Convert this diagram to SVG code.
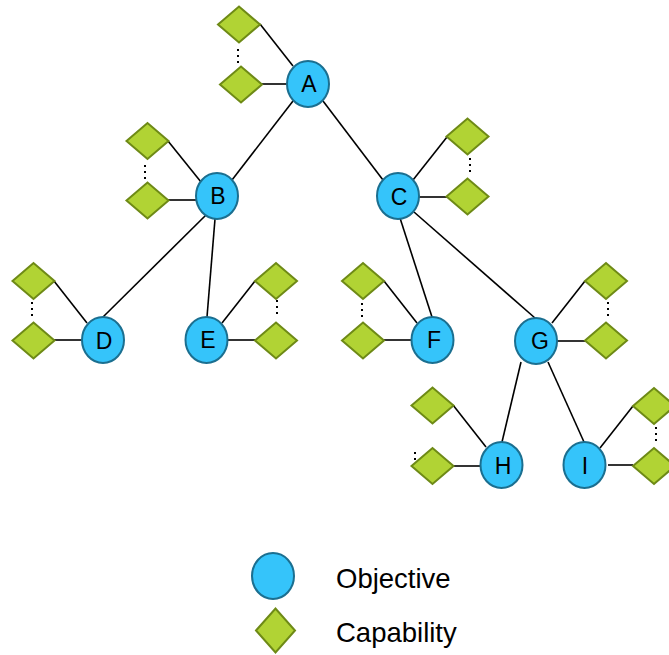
<svg xmlns="http://www.w3.org/2000/svg" width="669" height="655" viewBox="0 0 669 655">
<defs>
<style>
.obj{fill:#35C4FA;stroke:#1B6F90;stroke-width:2}
.cap{fill:#B1D334;stroke:#6E8A16;stroke-width:2;stroke-linejoin:miter}
.lbl{font-family:"Liberation Sans",Arial,sans-serif;font-size:23px;fill:#000;text-anchor:middle}
.leg{font-family:"Liberation Sans",Arial,sans-serif;font-size:27.5px;fill:#000}
.ln{stroke:#000;stroke-width:1.6;fill:none}
.dot{stroke:#000;stroke-width:2;stroke-dasharray:2 4;fill:none}
</style>
<path id="dm" d="M -21 0 L 0 -18 L 21 0 L 0 18 Z"/>
</defs>
<rect width="669" height="655" fill="#fff"/>
<g id="connectors">
<line class="ln" x1="293" y1="101" x2="232" y2="180"/>
<line class="ln" x1="323" y1="101" x2="383" y2="180"/>
<line class="ln" x1="206" y1="215" x2="103" y2="317"/>
<line class="ln" x1="215" y1="219" x2="207" y2="317"/>
<line class="ln" x1="400" y1="218" x2="432" y2="317"/>
<line class="ln" x1="414" y1="212" x2="535" y2="318"/>
<line class="ln" x1="521" y1="362" x2="502" y2="442"/>
<line class="ln" x1="548" y1="362" x2="584" y2="442"/>
<line class="ln" x1="260" y1="24" x2="293" y2="66"/>
<line class="ln" x1="262" y1="84" x2="287" y2="84"/>
<line class="ln" x1="168" y1="141" x2="201" y2="182"/>
<line class="ln" x1="168" y1="200" x2="196" y2="200"/>
<line class="ln" x1="447" y1="137" x2="413" y2="180"/>
<line class="ln" x1="419" y1="197" x2="447" y2="197"/>
<line class="ln" x1="54" y1="281" x2="87" y2="323"/>
<line class="ln" x1="54" y1="340" x2="82" y2="340"/>
<line class="ln" x1="222" y1="323" x2="255" y2="281"/>
<line class="ln" x1="228" y1="340" x2="255" y2="340"/>
<line class="ln" x1="384" y1="281" x2="417" y2="323"/>
<line class="ln" x1="384" y1="340" x2="412" y2="340"/>
<line class="ln" x1="552" y1="323" x2="585" y2="281"/>
<line class="ln" x1="557" y1="341" x2="585" y2="341"/>
<line class="ln" x1="453" y1="405" x2="486" y2="447"/>
<line class="ln" x1="453" y1="466" x2="480" y2="466"/>
<line class="ln" x1="600" y1="448" x2="633" y2="406"/>
<line class="ln" x1="608" y1="465" x2="633" y2="465"/>
<line class="dot" x1="238" y1="49" x2="238" y2="65"/>
<line class="dot" x1="145" y1="165" x2="145" y2="183"/>
<line class="dot" x1="470" y1="158" x2="470" y2="175"/>
<line class="dot" x1="32" y1="302" x2="32" y2="320"/>
<line class="dot" x1="277" y1="300" x2="277" y2="318"/>
<line class="dot" x1="362" y1="303" x2="362" y2="320"/>
<line class="dot" x1="608" y1="302" x2="608" y2="317"/>
<line class="dot" x1="415" y1="452" x2="415" y2="462"/>
<line class="dot" x1="656" y1="427" x2="656" y2="444"/>
</g>
<g id="capabilities">
<use href="#dm" class="cap" x="239" y="24.5"/>
<use href="#dm" class="cap" x="241" y="84.5"/>
<use href="#dm" class="cap" x="147.5" y="141"/>
<use href="#dm" class="cap" x="147.5" y="200.5"/>
<use href="#dm" class="cap" x="467.5" y="136.5"/>
<use href="#dm" class="cap" x="467.5" y="196.5"/>
<use href="#dm" class="cap" x="33.5" y="281"/>
<use href="#dm" class="cap" x="33.5" y="340.5"/>
<use href="#dm" class="cap" x="276" y="281"/>
<use href="#dm" class="cap" x="276" y="340.5"/>
<use href="#dm" class="cap" x="363" y="281"/>
<use href="#dm" class="cap" x="363" y="340.5"/>
<use href="#dm" class="cap" x="606" y="281"/>
<use href="#dm" class="cap" x="606" y="340.5"/>
<use href="#dm" class="cap" x="432.5" y="405.5"/>
<use href="#dm" class="cap" x="432.5" y="466"/>
<use href="#dm" class="cap" x="654" y="406"/>
<use href="#dm" class="cap" x="654" y="466"/>
</g>
<g id="node-A"><ellipse class="obj" cx="308" cy="84" rx="21" ry="23"/><text class="lbl" x="309" y="92">A</text></g>
<g id="node-B"><ellipse class="obj" cx="217" cy="196" rx="21" ry="23"/><text class="lbl" x="218" y="204">B</text></g>
<g id="node-C"><ellipse class="obj" cx="398" cy="196" rx="21" ry="23"/><text class="lbl" x="399" y="205">C</text></g>
<g id="node-D"><ellipse class="obj" cx="103" cy="340" rx="21" ry="23"/><text class="lbl" x="104" y="349">D</text></g>
<g id="node-E"><ellipse class="obj" cx="206.5" cy="340" rx="21" ry="23"/><text class="lbl" x="208" y="348">E</text></g>
<g id="node-F"><ellipse class="obj" cx="432.5" cy="340" rx="21" ry="23"/><text class="lbl" x="434" y="348">F</text></g>
<g id="node-G"><ellipse class="obj" cx="536" cy="341" rx="21" ry="23"/><text class="lbl" x="540" y="349">G</text></g>
<g id="node-H"><ellipse class="obj" cx="501.5" cy="465" rx="21" ry="23"/><text class="lbl" x="503" y="474">H</text></g>
<g id="node-I"><ellipse class="obj" cx="584.5" cy="465" rx="21" ry="23"/><text class="lbl" x="585" y="474">I</text></g>
<g id="legend">
<ellipse class="obj" cx="273" cy="576" rx="21" ry="23"/>
<path class="cap" d="M 256 630.5 L 275.5 608.5 L 295 630.5 L 275.5 652.5 Z"/>
<text class="leg" x="336" y="588">Objective</text>
<text class="leg" x="336" y="642">Capability</text>
</g>
</svg>
